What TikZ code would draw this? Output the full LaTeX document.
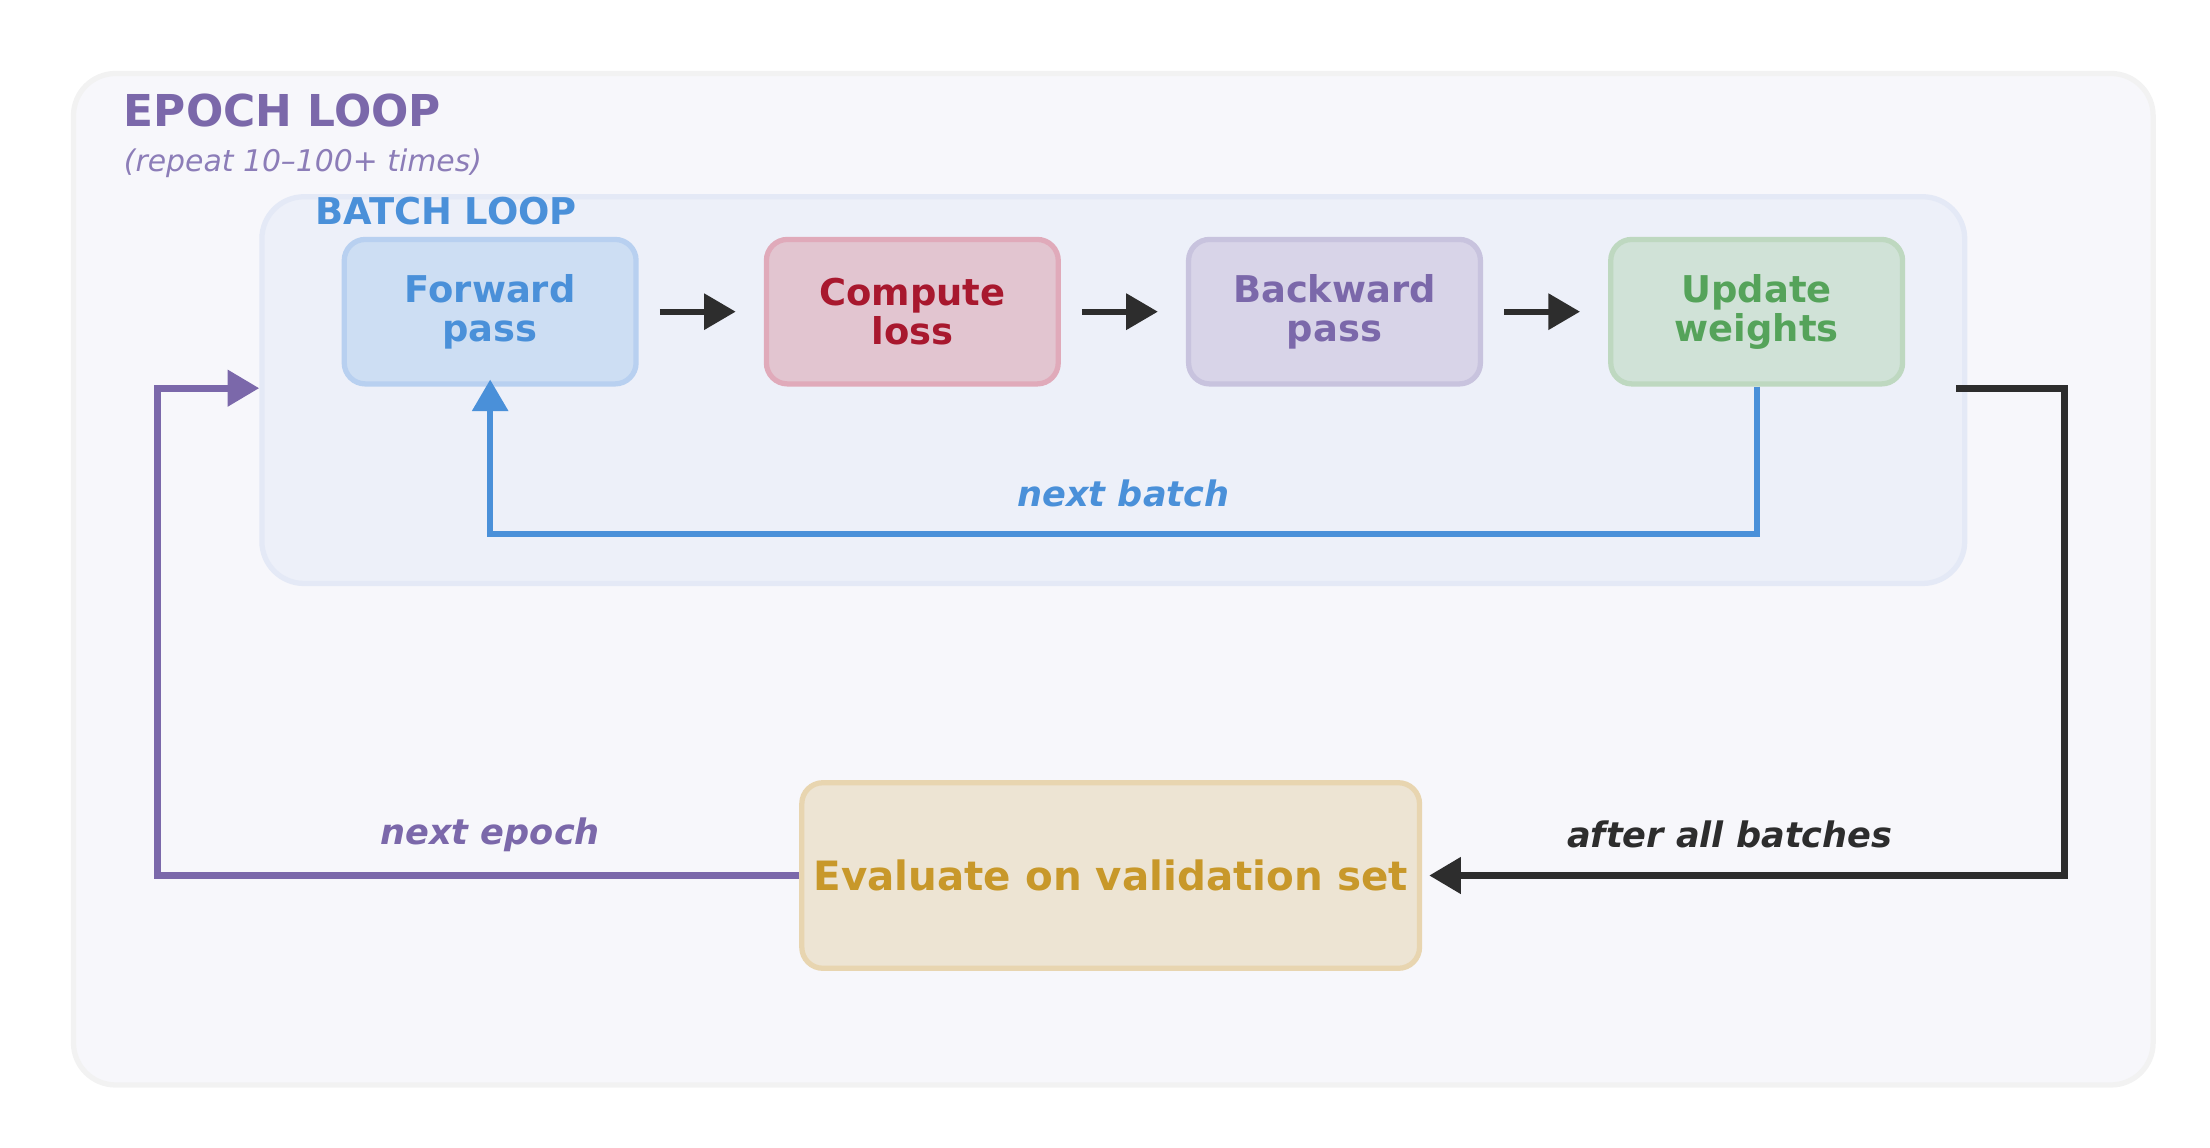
\documentclass[tikz,border=0pt]{standalone}
\usepackage{fontspec}
\setmainfont{DejaVu Sans}
\usetikzlibrary{arrows.meta}
\definecolor{epurple}{HTML}{7B68AA}
\definecolor{lpurple}{HTML}{8C7DB8}
\definecolor{eblue}{HTML}{4A90D9}
\definecolor{ered}{HTML}{A8182E}
\definecolor{egreen}{HTML}{55A35A}
\definecolor{egold}{HTML}{C8982A}
\definecolor{edark}{HTML}{2D2D2D}
\begin{document}
\begin{tikzpicture}[x=0.01417cm,y=-0.01417cm,
  box/.style={rounded corners=6pt,line width=1.5pt,minimum width=206*0.01417cm,minimum height=102*0.01417cm,align=center,font=\fontsize{10.5pt}{11pt}\selectfont\bfseries},
  arr/.style={line width=1.7pt,-{Triangle[length=9pt,width=10pt]}},
  lbl/.style={font=\fontsize{10pt}{12pt}\selectfont\bfseries\itshape}]
\useasboundingbox (0,0) rectangle (1560,810);
\node[draw=black!5,rounded corners=12pt,line width=1.5pt,minimum width=1468*0.01417cm,minimum height=714*0.01417cm,anchor=north west,fill={rgb,255:red,247;green,247;blue,251}] (outer) at (50,50) {};
\node[anchor=west,inner sep=0,text=epurple,font=\fontsize{12.5pt}{14pt}\selectfont\bfseries] (t1) at (87,78) {EPOCH LOOP};
\node[anchor=west,inner sep=0,text=lpurple,font=\fontsize{8.5pt}{10pt}\selectfont\itshape] (t2) at (87,115) {(repeat 10–100+ times)};
\node[draw={rgb,255:red,228;green,233;blue,246},fill={rgb,255:red,237;green,240;blue,249},rounded corners=12pt,line width=1.5pt,minimum width=1202*0.01417cm,minimum height=273*0.01417cm,anchor=north west] (batch) at (183,137) {};
\node[anchor=west,inner sep=0,text=eblue,font=\fontsize{10.5pt}{12pt}\selectfont\bfseries] (t3) at (222,149) {BATCH LOOP};
\node[box,draw={rgb,255:red,184;green,208;blue,240},fill={rgb,255:red,205;green,222;blue,243},text=eblue] (fw) at (346,220) {Forward\\pass};
\node[box,draw={rgb,255:red,224;green,170;blue,186},fill={rgb,255:red,226;green,197;blue,208},text=ered] (cl) at (644,220) {Compute\\loss};
\node[box,draw={rgb,255:red,200;green,195;blue,222},fill={rgb,255:red,216;green,212;blue,232},text=epurple] (bw) at (942,220) {Backward\\pass};
\node[box,draw={rgb,255:red,190;green,216;blue,192},fill={rgb,255:red,208;green,226;blue,215},text=egreen] (uw) at (1240,220) {Update\\weights};
\node[box,draw={rgb,255:red,232;green,213;blue,176},fill={rgb,255:red,237;green,228;blue,211},text=egold,minimum width=408*0.01417cm,minimum height=131*0.01417cm,font=\fontsize{11.5pt}{13pt}\selectfont\bfseries] (ev) at (784,618) {Evaluate on validation set};
\draw[arr,edark] ([xshift=6]fw.east) -- ([xshift=-8]cl.west);
\draw[arr,edark] ([xshift=6]cl.east) -- ([xshift=-8]bw.west);
\draw[arr,edark] ([xshift=6]bw.east) -- ([xshift=-8]uw.west);
\coordinate (b1) at (1240,377); \coordinate (b2) at (346,377);
\draw[arr,eblue] (uw.south) -- (b1) -- (b2) -- ([yshift=2]fw.south);
\node[lbl,text=eblue] (nb) at (793,348) {next batch};
\coordinate (r0) at (1381,274); \coordinate (r1) at (1457,274); \coordinate (r2) at (1457,618);
\draw[arr,edark,line width=2pt] (r0) -- (r1) -- (r2) -- ([xshift=2]ev.east);
\node[lbl,text=edark] (ab) at (1221,589) {after all batches};
\coordinate (p1) at (111,618); \coordinate (p2) at (111,274);
\draw[arr,epurple,line width=2pt] (ev.west) -- (p1) -- (p2) -- (batch.west |- p2);
\node[lbl,text=epurple] (ne) at (346,589) {next epoch};
\end{tikzpicture}
\end{document}
